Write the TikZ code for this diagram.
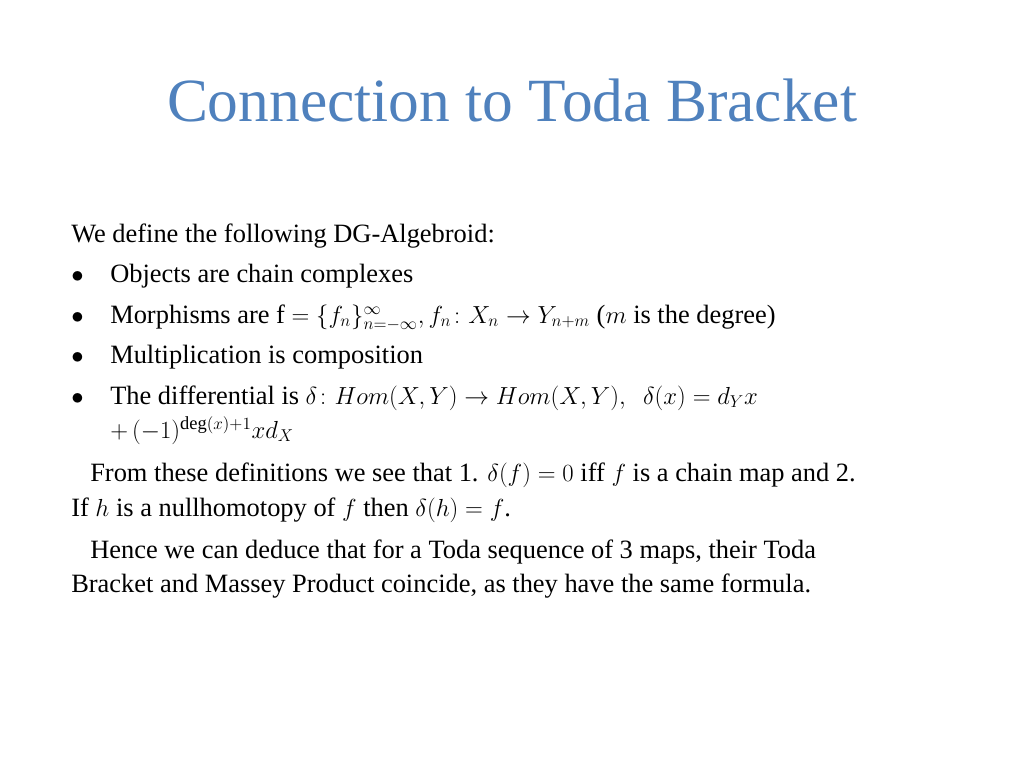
\documentclass[tikz,border=0pt]{standalone}
\usepackage{amsmath}
\usepackage{fontspec}
\setmainfont{Liberation Serif}
\definecolor{titleblue}{HTML}{4F81BD}
\tikzset{line/.style={anchor=base west,inner sep=0pt,font=\fontsize{18.5}{22}\selectfont},
  dot/.style={anchor=base west,inner sep=0pt,font=\fontsize{18.5}{22}\selectfont}}
\begin{document}
\begin{tikzpicture}[x=0.7pt,y=-0.7pt]
    \useasboundingbox (0,0) rectangle (1024,768);
    \node[text=titleblue,font=\fontsize{43}{50}\selectfont] (title) at (512,100) {Connection to Toda Bracket};
    \node[line] (intro) at (71,242) {We define the following DG-Algebroid:};
    \node[dot] (b1) at (71,282) {$\bullet$};
    \node[line] (obj) at (110,282) {Objects are chain complexes};
    \node[dot] (b2) at (71,323) {$\bullet$};
    \node[line] (mor) at (110,323) {Morphisms are f $=\{f_n\}_{n=-\infty}^{\infty}, f_n\colon X_n\to Y_{n+m}$ ($m$ is the degree)};
    \node[dot] (b3) at (71,363) {$\bullet$};
    \node[line] (mult) at (110,363) {Multiplication is composition};
    \node[dot] (b4) at (71,404) {$\bullet$};
    \node[line] (diff) at (110,404) {The differential is $\delta\colon Hom(X,Y)\to Hom(X,Y),\ \ \delta(x)=d_Yx$};
    \node[line] (diff2) at (110,438) {$+\,(-1)^{\deg(x)+1}xd_X$};
    \node[line] (from) at (90,481) {From these definitions we see that 1. $\delta(f)=0$ iff $f$ is a chain map and 2.};
    \node[line] (if) at (71,516) {If $h$ is a nullhomotopy of $f$ then $\delta(h)=f$.};
    \node[line] (hence) at (90,558) {Hence we can deduce that for a Toda sequence of 3 maps, their Toda};
    \node[line] (brack) at (71,592) {Bracket and Massey Product coincide, as they have the same formula.};
\end{tikzpicture}
\end{document}
